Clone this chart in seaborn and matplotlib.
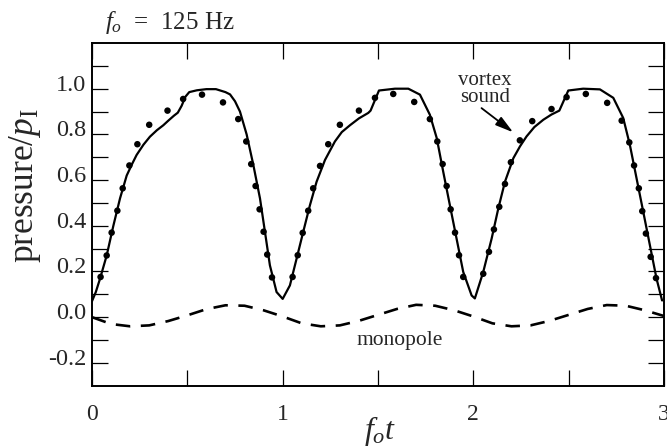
import numpy as np
import pandas as pd
import matplotlib
matplotlib.use("Agg")
import matplotlib.pyplot as plt
from matplotlib.ticker import FixedLocator, FixedFormatter
from matplotlib.transforms import ScaledTranslation
import seaborn as sns

# --- vortex-sound prediction (solid curve), three cycles -------------------
vortex_t = [0.00, 0.02, 0.042, 0.077, 0.112, 0.147, 0.182, 0.21, 0.234, 0.27,
            0.304, 0.34, 0.374,
            0.40, 0.43, 0.45, 0.47, 0.49, 0.51, 0.55, 0.60, 0.65, 0.70,
            0.724, 0.75, 0.776, 0.811, 0.846, 0.881, 0.907, 0.933, 0.968, 1.00,
            1.038, 1.073, 1.108, 1.143, 1.178, 1.222, 1.274, 1.31, 1.353, 1.40,
            1.449, 1.461,
            1.505, 1.589, 1.659, 1.72, 1.772, 1.808, 1.842, 1.877, 1.912, 1.947,
            1.991, 2.008,
            2.052, 2.096, 2.131, 2.166, 2.21, 2.245, 2.279, 2.32, 2.367, 2.41,
            2.451, 2.498, 2.576,
            2.664, 2.734, 2.786, 2.821, 2.856, 2.891, 2.926, 2.961, 2.99]
vortex_p = [0.07, 0.11, 0.168, 0.27, 0.40, 0.52, 0.62, 0.67, 0.71, 0.755,
            0.79, 0.818, 0.84,
            0.86, 0.882, 0.895, 0.925, 0.965, 0.985, 0.993, 0.998, 0.998, 0.985,
            0.975, 0.945, 0.90, 0.80, 0.667, 0.52, 0.374, 0.227, 0.11, 0.08,
            0.139, 0.256, 0.374, 0.49, 0.593, 0.688, 0.769, 0.81, 0.84, 0.87,
            0.894, 0.904,
            0.992, 1.0, 1.0, 0.974, 0.886, 0.784, 0.637, 0.49, 0.344, 0.198,
            0.095, 0.082,
            0.198, 0.344, 0.476, 0.593, 0.696, 0.748, 0.791, 0.832, 0.864, 0.887,
            0.904, 0.992, 1.0,
            0.997, 0.96, 0.872, 0.754, 0.608, 0.462, 0.315, 0.168, 0.073]

# --- measured pressure (dots) ----------------------------------------------
meas_t = [0.045, 0.077, 0.103, 0.133, 0.161, 0.196, 0.238, 0.30, 0.396, 0.478,
          0.577, 0.687, 0.767, 0.809, 0.835, 0.858, 0.879, 0.90, 0.919, 0.944,
          1.052, 1.079, 1.105, 1.134, 1.16, 1.196, 1.239, 1.30, 1.40, 1.484,
          1.58, 1.69, 1.772, 1.811, 1.839, 1.86, 1.881, 1.904, 1.925, 1.947,
          2.052, 2.082, 2.108, 2.136, 2.166, 2.197, 2.244, 2.309, 2.41, 2.489,
          2.59, 2.702, 2.778, 2.818, 2.843, 2.868, 2.886, 2.905, 2.93, 2.958]
meas_p = [0.176, 0.27, 0.37, 0.466, 0.564, 0.664, 0.757, 0.842, 0.904, 0.955,
          0.974, 0.94, 0.867, 0.769, 0.67, 0.574, 0.472, 0.374, 0.274, 0.174,
          0.176, 0.271, 0.369, 0.466, 0.564, 0.662, 0.757, 0.842, 0.904, 0.96,
          0.977, 0.942, 0.867, 0.769, 0.67, 0.574, 0.472, 0.37, 0.271, 0.176,
          0.19, 0.286, 0.384, 0.483, 0.583, 0.678, 0.774, 0.858, 0.911, 0.963,
          0.977, 0.938, 0.86, 0.765, 0.664, 0.564, 0.464, 0.366, 0.264, 0.171]

# --- monopole contribution (dashed curve) ----------------------------------
mono_t = [0.0, 0.1, 0.2, 0.3, 0.4, 0.5, 0.6, 0.7, 0.8, 0.9,
          1.0, 1.1, 1.2, 1.3, 1.4, 1.5, 1.6, 1.7, 1.8, 1.9,
          2.0, 2.1, 2.2, 2.3, 2.4, 2.5, 2.6, 2.7, 2.8, 2.9, 3.0]
mono_p = [0.0, -0.03, -0.04, -0.036, -0.017, 0.008, 0.035, 0.052, 0.05, 0.03,
          0.003, -0.027, -0.04, -0.036, -0.016, 0.01, 0.036, 0.054, 0.05, 0.03,
          0.003, -0.027, -0.04, -0.036, -0.016, 0.01, 0.036, 0.053, 0.05, 0.03,
          0.005]

x_ticks = [0, 1, 2, 3]
x_tick_labels = ["0", "1", "2", "3"]
y_ticks = [-0.2, 0.0, 0.2, 0.4, 0.6, 0.8, 1.0]
y_tick_labels = ["-0.2", "0.0", "0.2", "0.4", "0.6", "0.8", "1.0"]

vortex = pd.DataFrame({"t": vortex_t, "p": vortex_p})
meas = pd.DataFrame({"t": meas_t, "p": meas_p})
mono = pd.DataFrame({"t": mono_t, "p": mono_p})

sns.set_theme(style="ticks")
plt.rcParams["font.family"] = ["Liberation Serif", "DejaVu Serif"]
plt.rcParams["mathtext.fontset"] = "custom"
plt.rcParams["mathtext.rm"] = "Liberation Serif"
plt.rcParams["mathtext.it"] = "Liberation Serif:italic"

fig = plt.figure(figsize=(6.67, 4.47), dpi=100)
ax = fig.add_axes([92 / 667, 1 - 385.7 / 447, (664 - 92) / 667, (385.7 - 43) / 447])

sns.lineplot(data=vortex, x="t", y="p", ax=ax, color="black", lw=1.6,
             sort=False, estimator=None)
sns.lineplot(data=mono, x="t", y="p", ax=ax, color="black", lw=1.9,
             sort=False, estimator=None, linestyle=(0, (5.5, 4.0)))
sns.scatterplot(data=meas, x="t", y="p", ax=ax, color="black", s=22,
                edgecolor="none", zorder=3)

ax.set_xlim(0, 3)
ax.set_ylim(-0.3, 1.2)
ax.set_xlabel("")
ax.set_ylabel("")

ax.xaxis.set_major_locator(FixedLocator(x_ticks))
ax.xaxis.set_major_formatter(FixedFormatter(x_tick_labels))
ax.xaxis.set_minor_locator(FixedLocator([0.5, 1.5, 2.5]))
ax.yaxis.set_major_locator(FixedLocator(y_ticks))
ax.yaxis.set_major_formatter(FixedFormatter(y_tick_labels))
ax.yaxis.set_minor_locator(FixedLocator([-0.1, 0.1, 0.3, 0.5, 0.7, 0.9, 1.1]))

for which in ("major", "minor"):
    ax.tick_params(axis="both", which=which, direction="in", length=11.5,
                   width=0.9, color="black", top=True, right=True)
ax.tick_params(axis="x", which="major", labelsize=17, pad=13)
ax.tick_params(axis="y", which="major", labelsize=17.5, pad=4)
for sp in ax.spines.values():
    sp.set_linewidth(1.4)
    sp.set_color("black")

# tick labels sit slightly above their ticks
shift = ScaledTranslation(0, 6 / 100, fig.dpi_scale_trans)
for lab in ax.get_yticklabels():
    lab.set_transform(lab.get_transform() + shift)

ax.text(1.615, -0.104, "monopole", fontsize=15.5, ha="center", va="center")
ax.annotate("", xy=(2.209, 0.809), xytext=(2.043, 0.915),
            arrowprops=dict(arrowstyle="-|>,head_length=0.9,head_width=0.25",
                            color="black", lw=1.3, shrinkA=0, shrinkB=0))
ax.text(2.061, 0.999, "vortex\nsound", fontsize=15, ha="center", va="center",
        linespacing=0.85)

fig.text(105 / 667, 1 - 22 / 447, r"$f_o$  =  125 Hz", fontsize=18,
         ha="left", va="center")
fig.text(380 / 667, 1 - 431 / 447, r"$f_o t$", fontsize=23,
         ha="center", va="center")
fig.text(25 / 667, 1 - 186 / 447, r"pressure/$p_\mathrm{I}$", fontsize=25.5,
         ha="center", va="center", rotation=90)

fig.savefig("out.png", dpi=100)
